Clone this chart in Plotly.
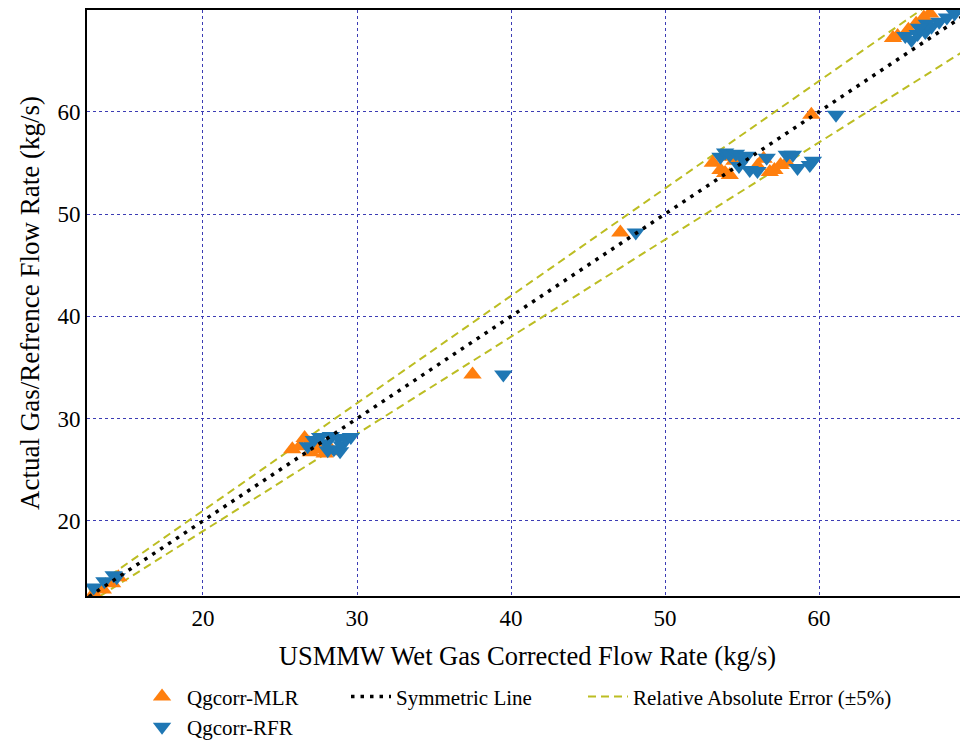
import plotly.graph_objects as go

# ---- data ----
mlr_x = [12.9, 13.5, 14.1, 14.5,
         25.8, 26.3, 26.6, 26.9, 27.0, 27.3, 27.5, 27.9, 28.1, 28.3,
         37.5, 47.1,
         53.1, 53.6, 53.9, 54.2, 54.0, 54.5, 56.4, 56.8, 57.1, 57.5, 57.9, 56.0,
         59.5,
         64.8, 65.1, 65.8, 66.3, 66.8, 67.2]
mlr_y = [12.9, 13.3, 13.9, 14.5,
         27.0, 27.3, 28.1, 27.6, 26.7, 27.0, 27.7, 26.6, 27.4, 26.8,
         34.3, 48.2,
         55.0, 54.3, 54.0, 53.8, 55.6, 55.2, 55.4, 54.1, 54.3, 54.8, 55.0, 54.7,
         59.7,
         67.2, 67.4, 68.0, 68.6, 69.2, 69.6]

rfr_x = [12.9, 13.6, 14.2, 14.4,
         26.8, 27.2, 27.6, 28.0, 28.3, 28.5, 28.8, 29.0, 29.3, 29.6, 28.1, 28.9,
         39.5, 48.1,
         53.6, 53.9, 54.2, 54.6, 55.0, 55.3, 54.8, 55.5, 56.0, 56.6, 57.9, 58.3,
         58.6, 59.4, 59.6,
         61.1,
         65.6, 66.0, 66.4, 66.9, 67.3, 67.8, 68.3, 68.8, 67.0, 66.5]
rfr_y = [13.5, 14.1, 14.7, 14.5,
         27.3, 27.9, 28.2, 27.6, 28.3, 27.0, 28.1, 27.4, 28.0, 28.2, 26.9, 26.8,
         34.3, 48.2,
         55.6, 56.0, 55.8, 55.9, 55.5, 55.7, 54.7, 54.3, 54.2, 55.5, 55.8, 55.8,
         54.5, 54.8, 55.2,
         59.7,
         67.4, 67.0, 67.6, 67.8, 68.3, 68.8, 69.2, 69.6, 68.6, 68.2]

line_x = [12.6, 70.0]          # extent of the reference lines
rel_err = 0.05                  # +/- 5 %
x_range = [12.47, 69.67]
y_range = [12.66, 69.94]
tick_vals = [20, 30, 40, 50, 60]

FONT = "Liberation Serif"
ORANGE = "#ff7f0e"
BLUE = "#1f77b4"
OLIVE = "#bcbd22"
GRID = "#3c3cb4"

sym_y = list(line_x)
up_y = [v * (1 + rel_err) for v in line_x]
lo_y = [v * (1 - rel_err) for v in line_x]

fig = go.Figure()
fig.add_trace(go.Scatter(x=line_x, y=up_y, mode="lines", name="Relative Absolute Error (±5%)",
                         line=dict(color=OLIVE, width=2, dash="8px,5px"), legend="legend3"))
fig.add_trace(go.Scatter(x=line_x, y=lo_y, mode="lines", showlegend=False,
                         line=dict(color=OLIVE, width=2, dash="8px,5px")))
fig.add_trace(go.Scatter(x=mlr_x, y=mlr_y, mode="markers", name="Qgcorr-MLR",
                         marker=dict(symbol="triangle-up", color=ORANGE, size=16, line=dict(width=0)),
                         legend="legend", legendrank=1))
fig.add_trace(go.Scatter(x=rfr_x, y=rfr_y, mode="markers", name="Qgcorr-RFR",
                         marker=dict(symbol="triangle-down", color=BLUE, size=16, line=dict(width=0)),
                         legend="legend", legendrank=2))
fig.add_trace(go.Scatter(x=line_x, y=sym_y, mode="lines", name="Symmetric Line",
                         line=dict(color="black", width=3.5, dash="3.5px,6px"), legend="legend2"))

axis_common = dict(
    showgrid=True, gridcolor=GRID, gridwidth=1, griddash="dot",
    showline=True, linecolor="black", linewidth=2, mirror=True,
    zeroline=False, ticks="", tickvals=tick_vals,
    tickfont=dict(family=FONT, size=23, color="black"),
)

leg_common = dict(orientation="v", xanchor="left", y=-0.137, yanchor="top",
                  font=dict(family=FONT, size=21), bgcolor="rgba(0,0,0,0)", itemwidth=40)

fig.update_layout(
    width=960, height=732,
    margin=dict(l=79, r=0, t=2, b=144, autoexpand=False),
    plot_bgcolor="white", paper_bgcolor="white",
    font=dict(family=FONT, color="black"),
    xaxis=dict(range=x_range, title=dict(text="USMMW Wet Gas Corrected Flow Rate (kg/s)",
                                         font=dict(family=FONT, size=26.5), standoff=17), **axis_common),
    yaxis=dict(range=y_range, title=dict(text="Actual Gas/Refrence Flow Rate (kg/s)",
                                         font=dict(family=FONT, size=27), standoff=10), **axis_common),
    legend=dict(x=0.0568, traceorder="normal", **leg_common),
    legend2=dict(x=0.294, **leg_common),
    legend3=dict(x=0.563, **leg_common),
)

fig.write_html("out.html")
